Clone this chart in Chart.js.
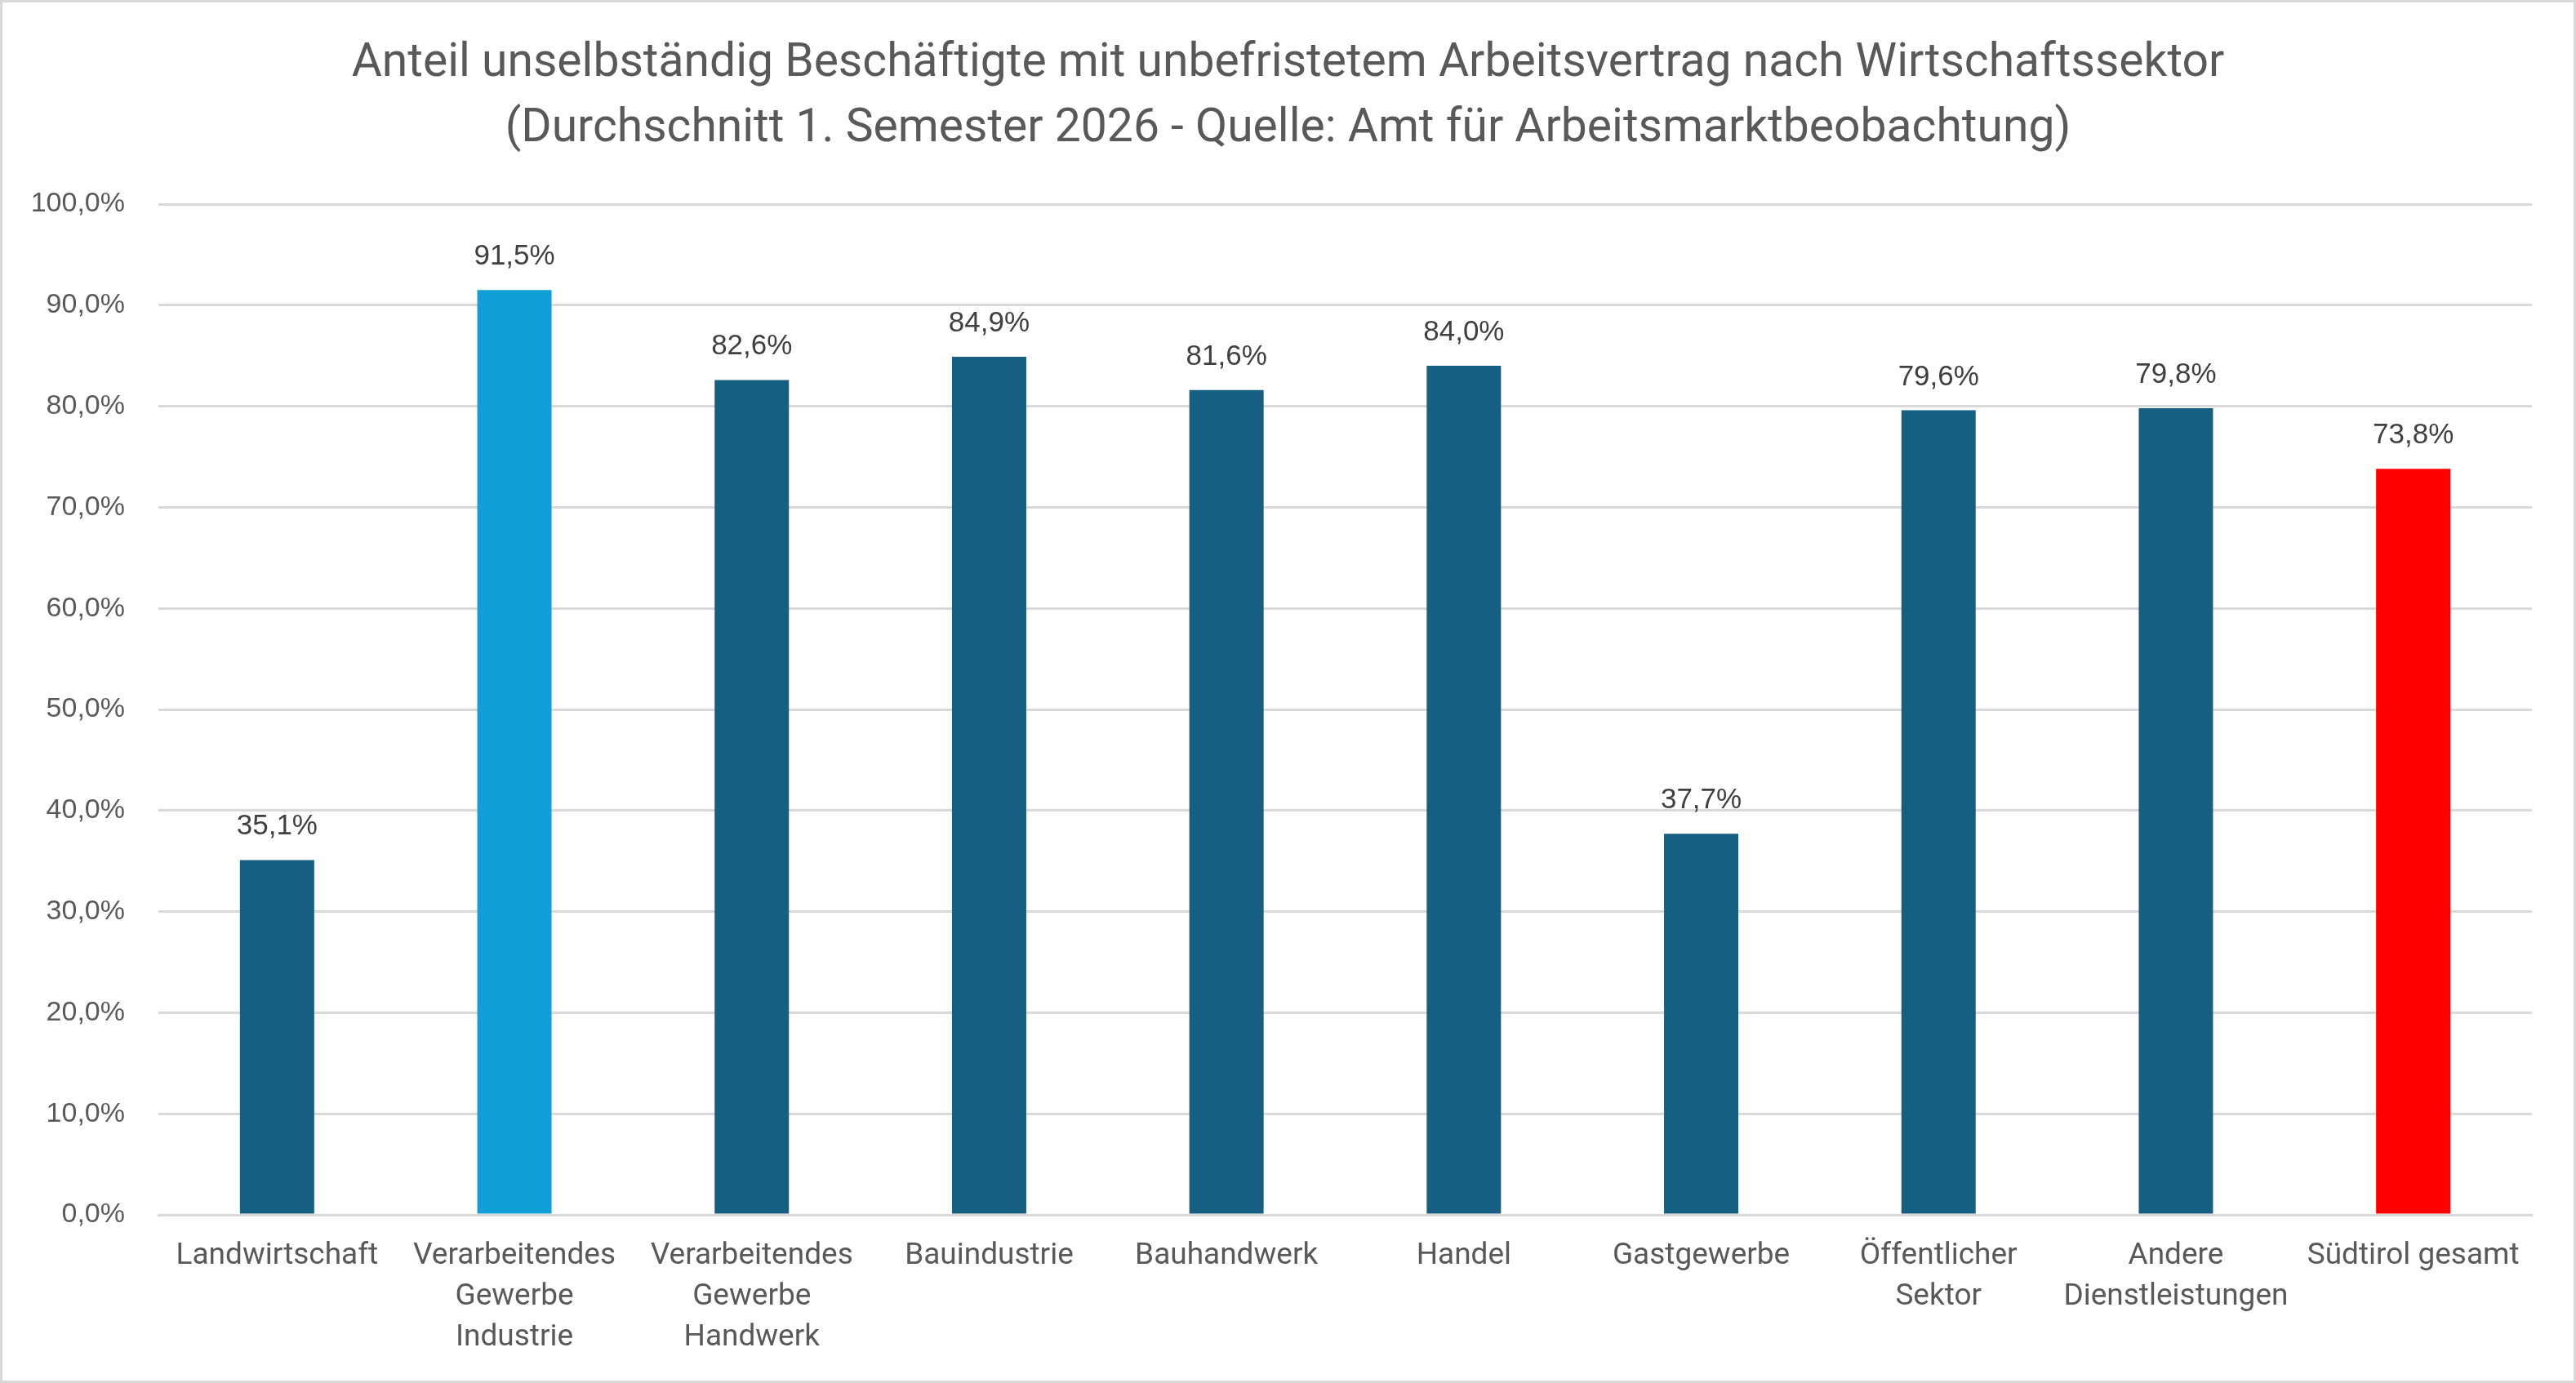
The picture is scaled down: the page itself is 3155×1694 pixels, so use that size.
<!DOCTYPE html>
<html>
<head>
<meta charset="utf-8">
<script src="https://cdn.jsdelivr.net/npm/chart.js@4.4.1/dist/chart.umd.min.js"></script>
<style>
  html, body { margin: 0; padding: 0; background: #fff; }
  canvas { display: block; }
</style>
</head>
<body>
<canvas id="myChart" width="3155" height="1694"></canvas>
<script>
// data
const sectors = [
  'Landwirtschaft',
  ['Verarbeitendes', 'Gewerbe', 'Industrie'],
  ['Verarbeitendes', 'Gewerbe', 'Handwerk'],
  'Bauindustrie',
  'Bauhandwerk',
  'Handel',
  'Gastgewerbe',
  ['Öffentlicher', 'Sektor'],
  ['Andere', 'Dienstleistungen'],
  'Südtirol gesamt'
];
const shares = [35.1, 91.5, 82.6, 84.9, 81.6, 84.0, 37.7, 79.6, 79.8, 73.8];
const barColors = ['#175F82', '#109FD6', '#175F82', '#175F82', '#175F82',
                   '#175F82', '#175F82', '#175F82', '#175F82', '#FF0000'];
const titleLines = [
  'Anteil unselbständig Beschäftigte mit unbefristetem Arbeitsvertrag nach Wirtschaftssektor',
  '(Durchschnitt 1. Semester 2026 - Quelle: Amt für Arbeitsmarktbeobachtung)'
];

function pct(v) {
  return v.toFixed(1).replace('.', ',') + '%';
}

// white background + light frame
const frame = {
  id: 'frame',
  beforeDraw(chart) {
    const c = chart.ctx;
    c.save();
    c.fillStyle = '#fff';
    c.fillRect(0, 0, chart.width, chart.height);
    c.strokeStyle = '#D9D9D9';
    c.lineWidth = 3;
    c.strokeRect(1.5, 1.5, chart.width - 3, chart.height - 3);
    c.restore();
  }
};

// value labels above bars
const valueLabels = {
  id: 'valueLabels',
  afterDatasetsDraw(chart) {
    const c = chart.ctx;
    const meta = chart.getDatasetMeta(0);
    c.save();
    c.font = '35px "Liberation Sans"';
    c.fillStyle = '#404040';
    c.textAlign = 'center';
    c.textBaseline = 'alphabetic';
    meta.data.forEach((bar, i) => {
      c.fillText(pct(shares[i]), bar.x, bar.y - 31);
    });
    c.restore();
  }
};

const ctx = document.getElementById('myChart');

new Chart(ctx, {
  type: 'bar',
  data: {
    labels: sectors,
    datasets: [{
      data: shares,
      backgroundColor: barColors,
      borderWidth: 0,
      categoryPercentage: 1,
      barPercentage: 0.313
    }]
  },
  options: {
    responsive: false,
    devicePixelRatio: 1,
    animation: false,
    layout: {
      padding: { left: 0, right: 0, top: 0, bottom: 4 }
    },
    plugins: {
      legend: { display: false },
      tooltip: { enabled: false },
      title: {
        display: true,
        text: titleLines,
        color: '#595959',
        font: { family: 'Roboto', size: 57, weight: 'normal', lineHeight: 80 / 57 },
        padding: { top: 39, bottom: 51 }
      }
    },
    scales: {
      x: {
        grid: { display: false, drawTicks: false },
        border: { display: true, color: '#D9D9D9', width: 3 },
        ticks: {
          color: '#595959',
          font: { family: 'Roboto', size: 37, lineHeight: 50 / 37 },
          padding: 26,
          maxRotation: 0,
          autoSkip: false
        }
      },
      y: {
        min: 0,
        max: 100,
        afterFit(scale) { scale.width = 194; },
        grid: { color: '#D9D9D9', lineWidth: 3, drawTicks: false },
        border: { display: false },
        ticks: {
          stepSize: 10,
          color: '#595959',
          font: { family: 'Liberation Sans', size: 34 },
          padding: 41,
          callback: function (val) { return pct(val); }
        }
      },
      // empty right margin so the title stays centred on the page
      yRight: {
        position: 'right',
        afterFit(scale) { scale.width = 54; },
        grid: { display: false, drawTicks: false },
        border: { display: false },
        ticks: { display: false }
      }
    }
  },
  plugins: [frame, valueLabels]
});
</script>
</body>
</html>
